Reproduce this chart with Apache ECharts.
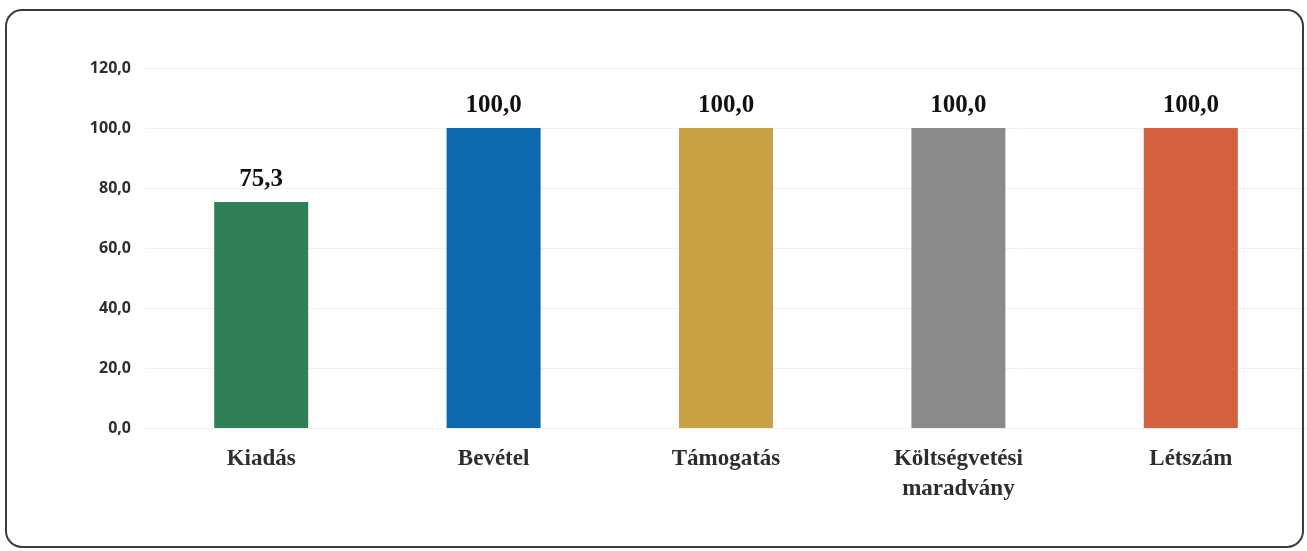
<!DOCTYPE html>
<html>
<head>
<meta charset="utf-8">
<style>
  html, body { margin: 0; padding: 0; background: #ffffff; }
  #chart { width: 1307px; height: 551px; }
</style>
<script src="https://cdn.jsdelivr.net/npm/echarts@6/dist/echarts.min.js"></script>
</head>
<body>
<div id="chart"></div>
<script>
const categories = ['Kiadás', 'Bevétel', 'Támogatás', 'Költségvetési\nmaradvány', 'Létszám'];
const values = [75.3, 100.0, 100.0, 100.0, 100.0];
const barColors = ['#2f7f57', '#0d68ae', '#caa246', '#8a8a8a', '#d3603f'];
const yTicks = { min: 0, max: 120, interval: 20 };

const chart = echarts.init(document.getElementById('chart'));
chart.setOption({
  backgroundColor: '#ffffff',
  animation: false,
  graphic: [{
    type: 'rect',
    shape: { x: 6, y: 10, width: 1297, height: 537, r: 16 },
    style: { fill: 'none', stroke: '#3c3c3c', lineWidth: 2 },
    z: 100
  }],
  grid: { left: 145, right: 0, top: 68, bottom: 123 },
  xAxis: {
    type: 'category',
    data: categories,
    axisLine: { show: false },
    axisTick: { show: false },
    axisLabel: {
      margin: 16,
      color: '#2e2e2e',
      fontFamily: 'Liberation Serif',
      fontWeight: 'bold',
      fontSize: 23,
      lineHeight: 30
    }
  },
  yAxis: {
    type: 'value',
    min: yTicks.min,
    max: yTicks.max,
    interval: yTicks.interval,
    axisLine: { show: false },
    axisTick: { show: false },
    splitLine: { lineStyle: { color: '#efefef', width: 1 } },
    axisLabel: {
      margin: 14,
      color: '#2e2e2e',
      fontFamily: 'Open Sans',
      fontWeight: 'bold',
      fontSize: 16,
      formatter: v => v.toFixed(1).replace('.', ',')
    }
  },
  series: [{
    type: 'bar',
    barWidth: 94,
    data: values.map((v, i) => ({ value: v, itemStyle: { color: barColors[i] } })),
    label: {
      show: true,
      position: 'top',
      distance: 10,
      color: '#111111',
      fontFamily: 'Liberation Serif',
      fontWeight: 'bold',
      fontSize: 25,
      formatter: p => p.value.toFixed(1).replace('.', ',')
    }
  }]
});
</script>
</body>
</html>
